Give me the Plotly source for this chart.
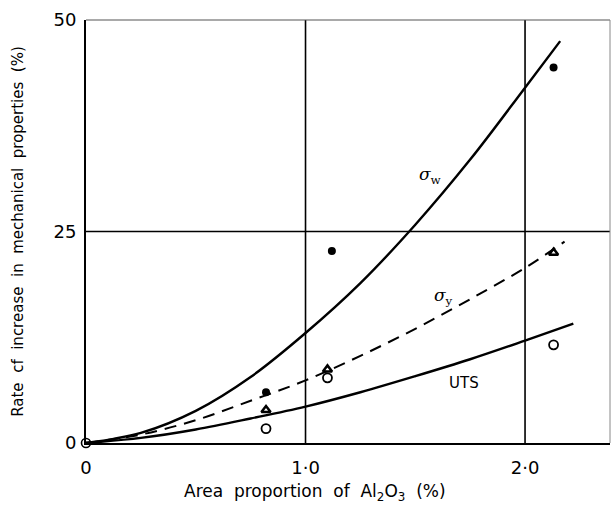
import plotly.graph_objects as go

# Fitted curves (area proportion of Al2O3 %, rate of increase %)
curve_x_w = [0, 0.25, 0.5, 0.75, 1.0, 1.25, 1.5, 1.75, 2.0, 2.16]
curve_w = [0, 1.2, 3.8, 7.8, 13.0, 18.9, 25.8, 33.5, 42.0, 47.5]

curve_x_y = [0, 0.25, 0.5, 0.75, 1.0, 1.25, 1.5, 1.75, 2.0, 2.18]
curve_y = [0, 1.0, 2.7, 5.0, 7.4, 10.3, 13.5, 17.0, 20.7, 23.8]

curve_x_uts = [0, 0.25, 0.5, 0.75, 1.0, 1.25, 1.5, 1.75, 2.0, 2.22]
curve_uts = [0, 0.6, 1.6, 2.9, 4.3, 6.0, 7.9, 9.9, 12.1, 14.1]

# Measured points
pts_x_w = [0.82, 1.12, 2.13]
pts_w = [6.0, 22.7, 44.4]

pts_x_y = [0.82, 1.10, 2.13]
pts_y = [3.9, 8.7, 22.5]

pts_x_uts = [0.82, 1.10, 2.13]
pts_uts = [1.7, 7.7, 11.6]

origin_x = [0]
origin_y = [0]

x_ticks = [0, 1.0, 2.0]
x_ticktext = ["0", "1·0", "2·0"]
y_ticks = [0, 25, 50]
y_ticktext = ["0", "25", "50"]

FONT = "DejaVu Sans"

fig = go.Figure()

fig.add_trace(go.Scatter(x=curve_x_w, y=curve_w, mode="lines",
                         line=dict(color="black", width=2.4, shape="spline"),
                         showlegend=False))
fig.add_trace(go.Scatter(x=curve_x_y, y=curve_y, mode="lines",
                         line=dict(color="black", width=2, dash="12px,8px", shape="spline"),
                         showlegend=False))
fig.add_trace(go.Scatter(x=curve_x_uts, y=curve_uts, mode="lines",
                         line=dict(color="black", width=2.4, shape="spline"),
                         showlegend=False))

fig.add_trace(go.Scatter(x=pts_x_w, y=pts_w, mode="markers",
                         marker=dict(symbol="circle", size=8, color="black"),
                         showlegend=False))
fig.add_trace(go.Scatter(x=pts_x_y, y=pts_y, mode="markers",
                         marker=dict(symbol="triangle-up-open", size=8,
                                     color="black", line=dict(width=2.5)),
                         showlegend=False))
fig.add_trace(go.Scatter(x=pts_x_uts, y=pts_uts, mode="markers",
                         marker=dict(symbol="circle-open", size=9,
                                     color="black", line=dict(width=1.8)),
                         showlegend=False))
fig.add_trace(go.Scatter(x=origin_x, y=origin_y, mode="markers",
                         marker=dict(symbol="circle-open-dot", size=9,
                                     color="black", line=dict(width=1.6)),
                         showlegend=False, cliponaxis=False))

# Curve labels
fig.add_annotation(x=1.57, y=31.6, text="<i>σ</i><sub>w</sub>", showarrow=False,
                   font=dict(family="DejaVu Serif", size=17, color="black"))
fig.add_annotation(x=1.63, y=17.3, text="<i>σ</i><sub>y</sub>", showarrow=False,
                   font=dict(family="DejaVu Serif", size=17, color="black"))
fig.add_annotation(x=1.72, y=7.1, text="UTS", showarrow=False,
                   font=dict(family=FONT, size=15, color="black"))

# X-axis title, set slightly left of the plot centre
fig.add_annotation(xref="paper", yref="paper", x=0.437, y=-0.118, yanchor="middle",
                   text="Area  proportion  of  Al<sub>2</sub>O<sub>3</sub>  (%)",
                   showarrow=False, font=dict(family=FONT, size=17, color="black"))

# Grid lines
for gx in [1.0, 2.0]:
    fig.add_shape(type="line", xref="x", yref="paper", x0=gx, x1=gx, y0=0, y1=1,
                  line=dict(color="black", width=1.6), layer="below")
fig.add_shape(type="line", xref="paper", yref="y", x0=0, x1=1, y0=25, y1=25,
              line=dict(color="black", width=1.4), layer="below")
# Top and right frame
fig.add_shape(type="line", xref="paper", yref="paper", x0=0, x1=1, y0=1, y1=1,
              line=dict(color="#555", width=1.2))
fig.add_shape(type="line", xref="paper", yref="paper", x0=1, x1=1, y0=0, y1=1,
              line=dict(color="#888", width=1))

fig.update_xaxes(range=[0, 2.387], tickvals=x_ticks, ticktext=x_ticktext,
                 showgrid=False, zeroline=False, showline=True, linecolor="black",
                 linewidth=2, ticks="", ticklabelstandoff=7,
                 tickfont=dict(family=FONT, size=18, color="black"))
fig.update_yaxes(range=[0, 50], tickvals=y_ticks, ticktext=y_ticktext,
                 showgrid=False, zeroline=False, showline=True, linecolor="black",
                 linewidth=2, ticks="", ticklabelstandoff=4,
                 tickfont=dict(family=FONT, size=18, color="black"),
                 title=dict(text="Rate  cf  increase  in  mechanical  properties  (%)",
                            font=dict(family=FONT, size=15, color="black"), standoff=26))

fig.update_layout(width=611, height=511, margin=dict(l=86, r=1, t=20, b=68),
                  paper_bgcolor="white", plot_bgcolor="white")

fig.write_html("out.html")
